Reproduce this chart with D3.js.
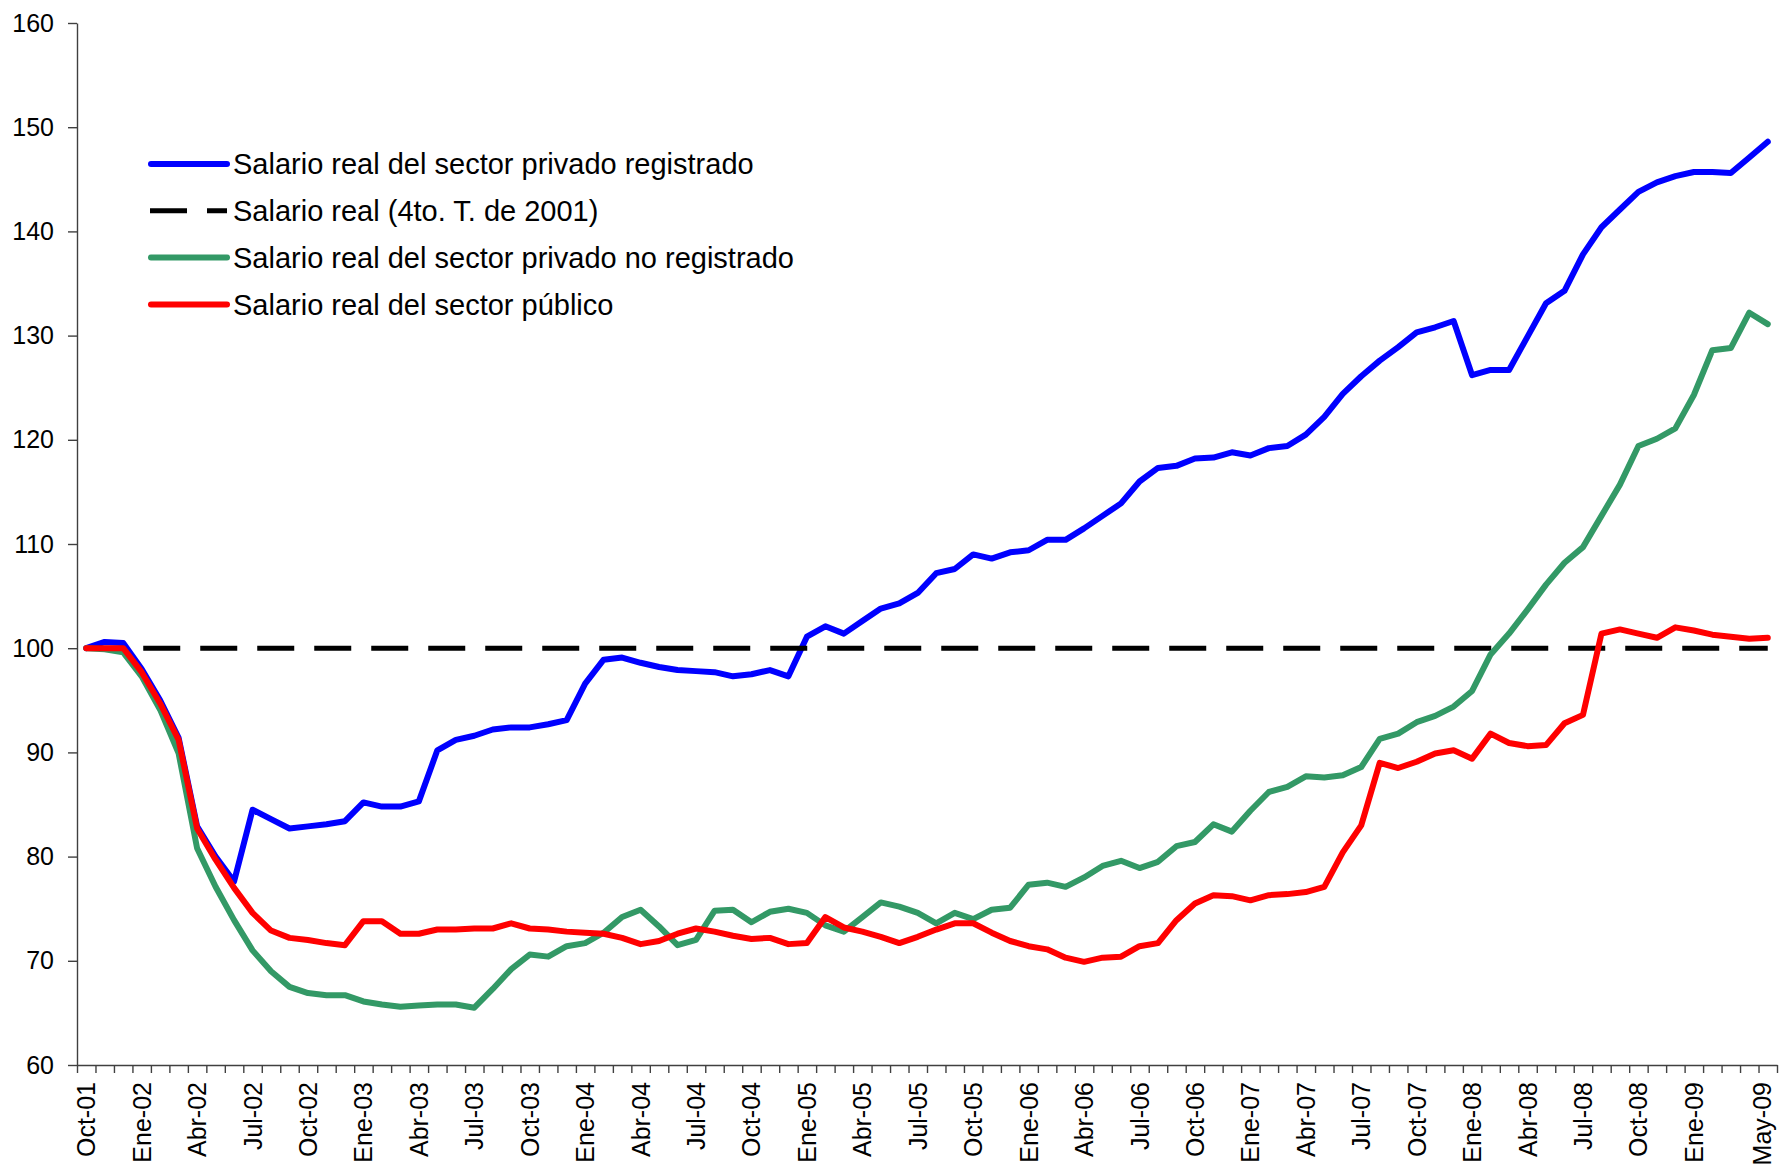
<!DOCTYPE html>
<html>
<head>
<meta charset="utf-8">
<script src="https://cdnjs.cloudflare.com/ajax/libs/d3/7.8.5/d3.min.js"></script>
<style>
  body { margin: 0; background: #fff; }
  svg text { font-family: "Liberation Sans", Arial, sans-serif; fill: #000; }
</style>
</head>
<body>
<div id="chart"></div>
<script>
"use strict";

var monthNames = ["Ene", "Feb", "Mar", "Abr", "May", "Jun", "Jul", "Ago", "Sep", "Oct", "Nov", "Dic"];

var tickLabels = ["Oct-01", "Ene-02", "Abr-02", "Jul-02", "Oct-02", "Ene-03", "Abr-03", "Jul-03",
    "Oct-03", "Ene-04", "Abr-04", "Jul-04", "Oct-04", "Ene-05", "Abr-05", "Jul-05", "Oct-05",
    "Ene-06", "Abr-06", "Jul-06", "Oct-06", "Ene-07", "Abr-07", "Jul-07", "Oct-07", "Ene-08",
    "Abr-08", "Jul-08", "Oct-08", "Ene-09", "May-09"];

var yTicks = [60, 70, 80, 90, 100, 110, 120, 130, 140, 150, 160];

// Salario real del sector privado registrado
var privadoRegistrado = [
    100.0, 100.6, 100.5, 98.0, 95.0, 91.4, 82.9, 80.0, 77.6, 84.5, 83.6, 82.7,
    82.9, 83.1, 83.4, 85.2, 84.8, 84.8, 85.3, 90.2, 91.2, 91.6, 92.2, 92.4,
    92.4, 92.7, 93.1, 96.6, 98.9, 99.1, 98.6, 98.2, 97.9, 97.8, 97.7, 97.3,
    97.5, 97.9, 97.3, 101.1, 102.1, 101.4, 102.6, 103.8, 104.3, 105.3, 107.2, 107.6,
    109.0, 108.6, 109.2, 109.4, 110.4, 110.4, 111.5, 112.7, 113.9, 116.0, 117.3, 117.5,
    118.2, 118.3, 118.8, 118.5, 119.2, 119.4, 120.5, 122.2, 124.4, 126.1, 127.6, 128.9,
    130.3, 130.8, 131.4, 126.2, 126.7, 126.7, 129.9, 133.1, 134.3, 137.8, 140.4, 142.1,
    143.8, 144.7, 145.3, 145.7, 145.7, 145.6, 147.1, 148.6
];

// Salario real (4to. T. de 2001)
var salarioBase = 100;

// Salario real del sector privado no registrado
var privadoNoRegistrado = [
    100.0, 99.9, 99.6, 97.3, 94.1, 89.9, 80.8, 77.1, 73.9, 71.0, 69.0, 67.5,
    66.9, 66.7, 66.7, 66.1, 65.8, 65.6, 65.7, 65.8, 65.8, 65.5, 67.3, 69.2,
    70.6, 70.4, 71.4, 71.7, 72.7, 74.2, 74.9, 73.3, 71.5, 72.0, 74.8, 74.9,
    73.7, 74.7, 75.0, 74.6, 73.4, 72.8, 74.2, 75.6, 75.2, 74.6, 73.6, 74.6,
    74.0, 74.9, 75.1, 77.3, 77.5, 77.1, 78.0, 79.1, 79.6, 78.9, 79.5, 81.0,
    81.4, 83.1, 82.4, 84.4, 86.2, 86.7, 87.7, 87.6, 87.8, 88.6, 91.3, 91.8,
    92.9, 93.5, 94.4, 95.9, 99.4, 101.4, 103.7, 106.1, 108.2, 109.7, 112.7, 115.7,
    119.4, 120.1, 121.1, 124.3, 128.6, 128.8, 132.2, 131.1
];

// Salario real del sector publico
var sectorPublico = [
    100.0, 100.0, 100.0, 97.7, 94.7, 91.2, 82.7, 79.7, 77.0, 74.6, 72.9, 72.2,
    72.0, 71.7, 71.5, 73.8, 73.8, 72.6, 72.6, 73.0, 73.0, 73.1, 73.1, 73.6,
    73.1, 73.0, 72.8, 72.7, 72.6, 72.2, 71.6, 71.9, 72.6, 73.1, 72.8, 72.4,
    72.1, 72.2, 71.6, 71.7, 74.2, 73.2, 72.8, 72.3, 71.7, 72.3, 73.0, 73.6,
    73.6, 72.7, 71.9, 71.4, 71.1, 70.3, 69.9, 70.3, 70.4, 71.4, 71.7, 73.9,
    75.5, 76.3, 76.2, 75.8, 76.3, 76.4, 76.6, 77.1, 80.4, 83.0, 89.0, 88.5,
    89.1, 89.9, 90.2, 89.4, 91.8, 90.9, 90.6, 90.7, 92.8, 93.6, 101.4, 101.8,
    101.4, 101.0, 102.0, 101.7, 101.3, 101.1, 100.9, 101.0
];

// categorias mensuales, Oct-01 a May-09
var months = [];
var mi = 9, yr = 1;
while (months.length < privadoRegistrado.length) {
    months.push(monthNames[mi] + "-" + (yr < 10 ? "0" + yr : yr));
    mi++;
    if (mi === 12) { mi = 0; yr++; }
}

var series = [
    { name: "Salario real del sector privado registrado", values: privadoRegistrado, color: "#0000ff", dash: null },
    { name: "Salario real (4to. T. de 2001)", values: months.map(function () { return salarioBase; }), color: "#000000", dash: "37,20" },
    { name: "Salario real del sector privado no registrado", values: privadoNoRegistrado, color: "#339966", dash: null },
    { name: "Salario real del sector público", values: sectorPublico, color: "#ff0000", dash: null }
];

var width = 1780, height = 1173;
var plot = { left: 77, right: 1777, top: 23, bottom: 1065 };

var svg = d3.select("#chart").append("svg")
    .attr("width", width)
    .attr("height", height);

var x = d3.scaleBand()
    .domain(months)
    .range([plot.left, plot.right])
    .padding(0);

var xIdx = d3.scaleLinear()
    .domain([0, months.length])
    .range([plot.left, plot.right]);

var y = d3.scaleLinear()
    .domain([60, 160])
    .range([plot.bottom, plot.top]);

var cx = function (m) { return x(m) + x.bandwidth() / 2; };

// eje Y
var yAxis = svg.append("g")
    .attr("transform", "translate(" + plot.left + ",0)")
    .call(d3.axisLeft(y).tickValues(yTicks).tickSize(9).tickSizeOuter(0).tickPadding(14));
yAxis.selectAll("text").style("font-size", "25px");

// marcas del eje X en los limites de cada categoria
svg.append("g")
    .attr("transform", "translate(0," + plot.bottom + ")")
    .call(d3.axisBottom(xIdx).tickValues(d3.range(months.length + 1)).tickFormat("").tickSize(8).tickSizeOuter(0));

// etiquetas del eje X
var xAxis = svg.append("g")
    .attr("transform", "translate(0," + plot.bottom + ")")
    .call(d3.axisBottom(x).tickValues(tickLabels).tickSize(0));
xAxis.select(".domain").remove();
xAxis.selectAll("text")
    .style("font-size", "25px")
    .attr("text-anchor", "end")
    .attr("transform", function (d, i) {
        // la ultima etiqueta queda pegada al borde derecho
        var dx = i === tickLabels.length - 1 ? -6 : 0;
        return "translate(" + dx + ",17) rotate(-90)";
    })
    .attr("x", 0)
    .attr("y", 0)
    .attr("dy", "0.36em");

svg.selectAll(".domain, .tick line")
    .attr("stroke", "#404040")
    .attr("stroke-width", 1.4);

// lineas
var line = d3.line()
    .x(function (d, i) { return cx(months[i]); })
    .y(function (d) { return y(d); });

svg.append("g").selectAll("path")
    .data(series)
    .enter()
    .append("path")
    .attr("d", function (s) { return line(s.values); })
    .attr("fill", "none")
    .attr("stroke", function (s) { return s.color; })
    .attr("stroke-width", function (s) { return s.dash ? 5 : 6; })
    .attr("stroke-dasharray", function (s) { return s.dash; })
    .attr("stroke-linejoin", "round")
    .attr("stroke-linecap", function (s) { return s.dash ? "butt" : "round"; });

// leyenda
var legend = svg.append("g")
    .attr("transform", "translate(148,164)");

var rows = legend.selectAll("g")
    .data(series)
    .enter()
    .append("g")
    .attr("transform", function (s, i) { return "translate(0," + (i * 46.8) + ")"; });

rows.append("line")
    .attr("x1", function (s) { return s.dash ? 2 : 3; })
    .attr("x2", 79)
    .attr("y1", 0)
    .attr("y2", 0)
    .attr("stroke", function (s) { return s.color; })
    .attr("stroke-width", function (s) { return s.dash ? 5 : 6; })
    .attr("stroke-dasharray", function (s) { return s.dash; })
    .attr("stroke-linecap", function (s) { return s.dash ? "butt" : "round"; });

rows.append("text")
    .attr("x", 85)
    .attr("y", 0)
    .attr("dy", "0.36em")
    .style("font-size", "29px")
    .text(function (s) { return s.name; });
</script>
</body>
</html>
